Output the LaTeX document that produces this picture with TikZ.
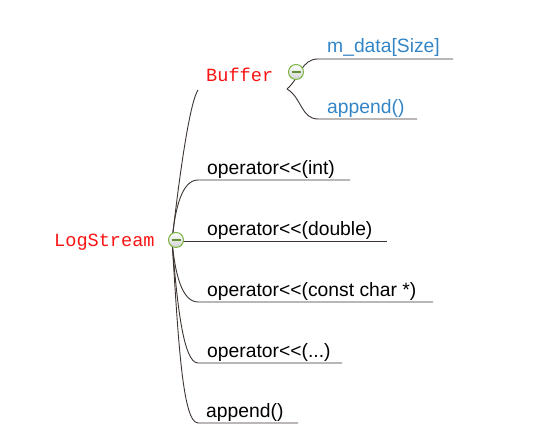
\documentclass[tikz,border=0pt]{standalone}
\usepackage{fontspec}
\newfontfamily\leaffont{Liberation Sans}
\newfontfamily\codefont{Liberation Mono}
\usepackage{xcolor}
\usetikzlibrary{arrows.meta,positioning,calc}
\definecolor{topicred}{RGB}{250,20,20}
\definecolor{subblue}{RGB}{51,133,198}
\definecolor{branchline}{RGB}{60,52,48}
\definecolor{foldgreen}{RGB}{122,180,66}

\begin{document}
\begin{tikzpicture}[x=1pt,y=1pt,
  topic/.style={anchor=base west,inner sep=0pt,text=topicred,font=\codefont\fontsize{18.6}{20}\selectfont},
  leaf/.style={anchor=base west,inner sep=0pt,font=\leaffont\fontsize{19.3}{21}\selectfont},
  subleaf/.style={leaf,text=subblue},
  branch/.style={draw=branchline,line width=0.9pt},
  fold/.style={circle,draw=foldgreen,line width=1pt,minimum size=15pt,inner sep=0pt,
    top color=white,bottom color=black!18}]
\useasboundingbox (0,0) rectangle (550,430);

% topics
\node[topic] (log) at (54,183) {LogStream};
\node[topic] (buf) at (206,348) {Buffer};
\coordinate (root) at (172,189);
\coordinate (bufroot) at (287,341);
\coordinate (bufend) at (198,340);

% members of Buffer
\node[subleaf] (data) at (327,377) {m\_data[Size]};
\node[subleaf] (bapp) at (327,316) {append()};
\coordinate (data0) at (318,371);  \coordinate (data1) at (453,371);
\coordinate (bapp0) at (318,311);  \coordinate (bapp1) at (417,311);

% members of LogStream
\node[leaf] (opint) at (207,255) {operator<<(int)};
\node[leaf] (opdbl) at (207,194) {operator<<(double)};
\node[leaf] (opstr) at (207,133) {operator<<(const char *)};
\node[leaf] (opany) at (207,72) {operator<<(...)};
\node[leaf] (app) at (206,12) {append()};
\coordinate (opint0) at (198,250);  \coordinate (opint1) at (350,250);
\coordinate (opdbl1) at (387,189);
\coordinate (opstr0) at (198,128);  \coordinate (opstr1) at (433,128);
\coordinate (opany0) at (198,67);   \coordinate (opany1) at (342,67);
\coordinate (app0) at (198,7);      \coordinate (app1) at (298,7);

% branches
\draw[branch] (root) .. controls (180,260) and (190,328) .. (bufend);
\draw[branch] (root) .. controls (175,222) and (182,250) .. (opint0) -- (opint1);
\draw[branch] (root) -- (opdbl1);
\draw[branch] (root) .. controls (175,156) and (182,128) .. (opstr0) -- (opstr1);
\draw[branch] (root) .. controls (177,128) and (183,67) .. (opany0) -- (opany1);
\draw[branch] (root) .. controls (178,98) and (182,7) .. (app0) -- (app1);
\draw[branch] (bufroot) to[out=40,in=180] (data0) -- (data1);
\draw[branch] (bufroot) to[out=-30,in=180] (bapp0) -- (bapp1);

% fold buttons
\foreach \p/\n in {{176,190}/logfold,{296,358}/buffold}{
  \node[fold] (\n) at (\p) {};
  \draw[foldgreen!80!black,line width=1.2pt] ($(\n)+(-4.5,0)$) -- ($(\n)+(4.5,0)$);
}
\end{tikzpicture}
\end{document}
